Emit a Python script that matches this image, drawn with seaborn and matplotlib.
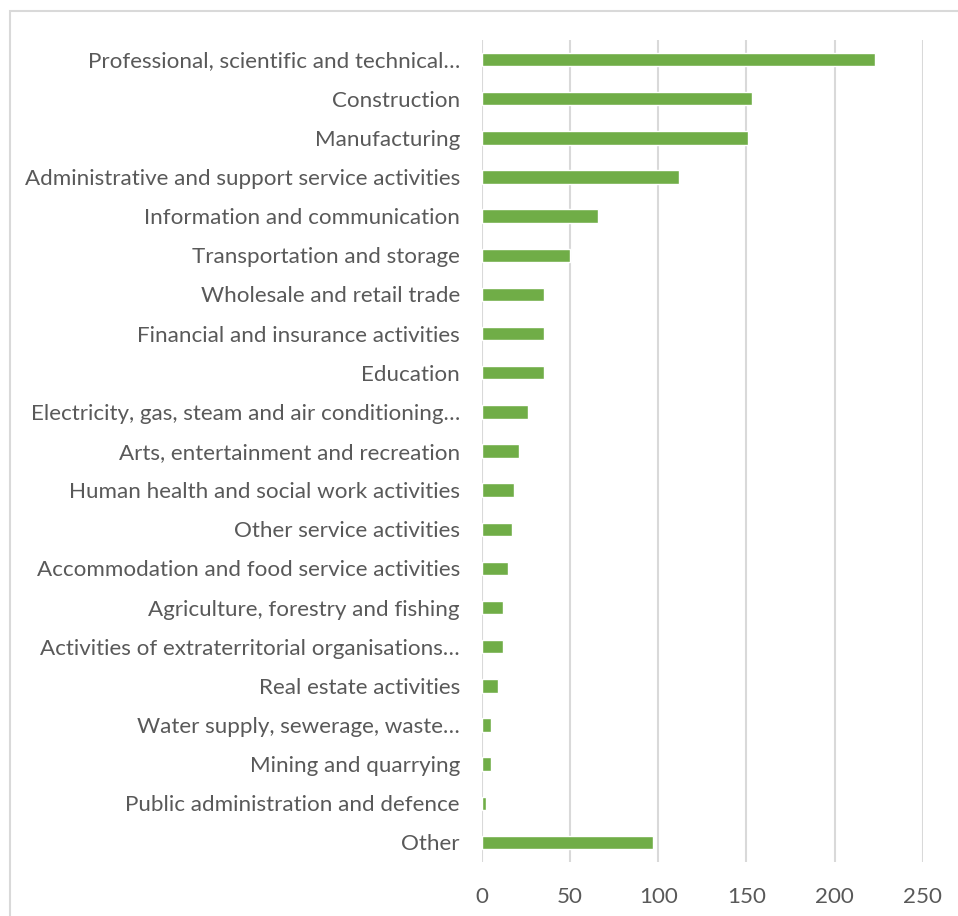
import matplotlib
matplotlib.use("Agg")
import matplotlib.pyplot as plt
import seaborn as sns
import pandas as pd
from matplotlib.patches import Rectangle

categories = [
    "Professional, scientific and technical\u2026",
    "Construction",
    "Manufacturing",
    "Administrative and support service activities",
    "Information and communication",
    "Transportation and storage",
    "Wholesale and retail trade",
    "Financial and insurance activities",
    "Education",
    "Electricity, gas, steam and air conditioning\u2026",
    "Arts, entertainment and recreation",
    "Human health and social work activities",
    "Other service activities",
    "Accommodation and food service activities",
    "Agriculture, forestry and fishing",
    "Activities of extraterritorial organisations\u2026",
    "Real estate activities",
    "Water supply, sewerage, waste\u2026",
    "Mining and quarrying",
    "Public administration and defence",
    "Other",
]
values = [223, 153, 151, 112, 66, 50, 35, 35, 35, 26, 21, 18, 17, 15, 12, 12, 9, 5, 5, 2, 97]
x_ticks = [0, 50, 100, 150, 200, 250]

df = pd.DataFrame({"sector": categories, "count": values})

sns.set_theme(style="white")
plt.rcParams["font.family"] = ["Lato", "DejaVu Sans"]

W, H = 958, 916
fig = plt.figure(figsize=(W / 100, H / 100), dpi=100)
fig.patch.set_facecolor("white")

# outer chart frame
fig.add_artist(Rectangle((10 / W, -0.01), 1.05, (H - 11) / H + 0.01,
                         transform=fig.transFigure, fill=False,
                         edgecolor="#d9d9d9", linewidth=1.5))

ax = fig.add_axes([482 / W, (H - 862) / H, (922.7 - 482) / W, (862 - 40) / H])
sns.barplot(data=df, y="sector", x="count", orient="h", color="#70ad47",
            saturation=1, width=0.34, ax=ax)

ax.set_xlim(0, 250)
ax.set_ylim(len(categories) - 0.5, -0.5)
ax.set_xticks(x_ticks)
ax.set_xticklabels([str(t) for t in x_ticks])
ax.xaxis.grid(True, color="#d9d9d9", linewidth=1.5)
ax.yaxis.grid(False)
ax.set_axisbelow(True)
for s in ax.spines.values():
    s.set_visible(False)
ax.set_xlabel("")
ax.set_ylabel("")
ax.tick_params(axis="y", length=0, pad=16, labelsize=16.1, labelcolor="#595959")
ax.tick_params(axis="x", length=0, pad=18, labelsize=16.1, labelcolor="#595959")

fig.savefig("out.png", dpi=100, facecolor="white")
